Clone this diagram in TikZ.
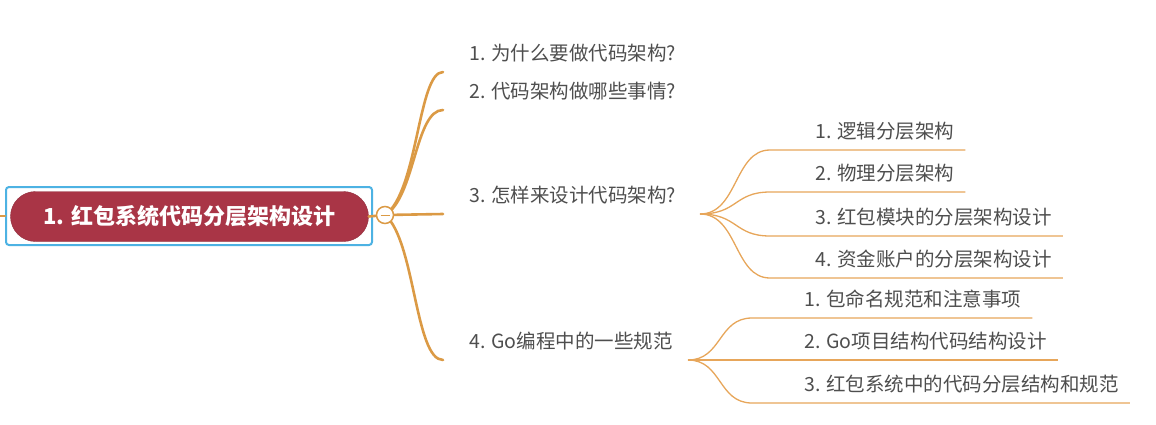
\documentclass[tikz,border=0pt]{standalone}
\usepackage{fontspec}
\setmainfont{Noto Sans CJK SC}
\usepackage{tikz}
\usetikzlibrary{positioning}
\definecolor{rootred}{HTML}{A93546}
\definecolor{selblue}{HTML}{4DB2E3}
\definecolor{branch}{HTML}{DB9A45}
\definecolor{twig}{HTML}{E7A65A}
\definecolor{ink}{HTML}{4E4E4E}

\begin{document}
\begin{tikzpicture}[x=1pt,y=-1pt,
  topic/.style={anchor=south west,inner xsep=0pt,inner ysep=0pt,minimum height=34pt,
    text height=16pt,text depth=4pt,text=ink,font=\fontsize{19.5}{22}\selectfont},
  limb/.style={draw=branch,line width=2.6pt,line cap=round},
  twigline/.style={draw=twig,line width=1.3pt}]
  \useasboundingbox (0,0) rectangle (1156,424);

  % central topic
  \node[draw=selblue,line width=2pt,rounded corners=3pt,minimum width=366pt,minimum height=58pt] (sel) at (189,216) {};
  \node[fill=rootred,draw=rootred!85!black,rounded corners=25pt,minimum width=358pt,minimum height=50pt,
    text=white,font=\fontsize{22}{26}\selectfont\bfseries] (root) at (189.5,216.5) {1. 红包系统代码分层架构设计};
  \coordinate (edge) at (0,216);
  \coordinate (hub) at (385,215);

  % main topics
  \node[topic] (t1) at (469,72) {1. 为什么要做代码架构?};
  \node[topic] (t2) at (469,110) {2. 代码架构做哪些事情?};
  \node[topic] (t3) at (469,214) {3. 怎样来设计代码架构?};
  \node[topic] (t4) at (469,360) {4. Go编程中的一些规范};

  % subtopics
  \node[topic] (a1) at (815,150) {1. 逻辑分层架构};
  \node[topic] (a2) at (815,192) {2. 物理分层架构};
  \node[topic] (a3) at (815,236) {3. 红包模块的分层架构设计};
  \node[topic] (a4) at (815,278) {4. 资金账户的分层架构设计};
  \node[topic] (b1) at (804,318) {1. 包命名规范和注意事项};
  \node[topic] (b2) at (804,360) {2. Go项目结构代码结构设计};
  \node[topic] (b3) at (804,403) {3. 红包系统中的代码分层结构和规范};
  \coordinate (f3) at (700,214);
  \coordinate (f4) at (688,360);

  % branches
  \draw[limb] (edge) -- (sel.west);
  \draw[limb] (root.east) -- (hub);
  \draw[limb] (hub) .. controls (418,192) and (418,72) .. ([xshift=-26pt]t1.south west);
  \draw[limb] (hub) .. controls (415,198) and (415,110) .. ([xshift=-26pt]t2.south west);
  \draw[limb] (hub) -- ([xshift=-26pt]t3.south west);
  \draw[limb] (hub) .. controls (415,240) and (415,360) .. ([xshift=-26pt]t4.south west);
  \node[circle,draw=branch,line width=1.5pt,fill=white,minimum size=17pt,inner sep=0pt] (knob) at (hub) {};
  \draw[branch,line width=1pt] ([xshift=-4.5pt]knob.center) -- ([xshift=4.5pt]knob.center);

  \foreach \s in {a1,a2,a3,a4}
    \draw[twigline] (f3) .. controls +(38,0) and +(-36,0) .. ([xshift=-45pt]\s.south west) -- ([xshift=11pt]\s.south east);
  \foreach \s in {b1,b3}
    \draw[twigline] (f4) .. controls +(34,0) and +(-34,0) .. ([xshift=-52pt]\s.south west) -- ([xshift=11pt]\s.south east);
  \draw[twigline] (f4) -- ([xshift=11pt]b2.south east);
\end{tikzpicture}
\end{document}
